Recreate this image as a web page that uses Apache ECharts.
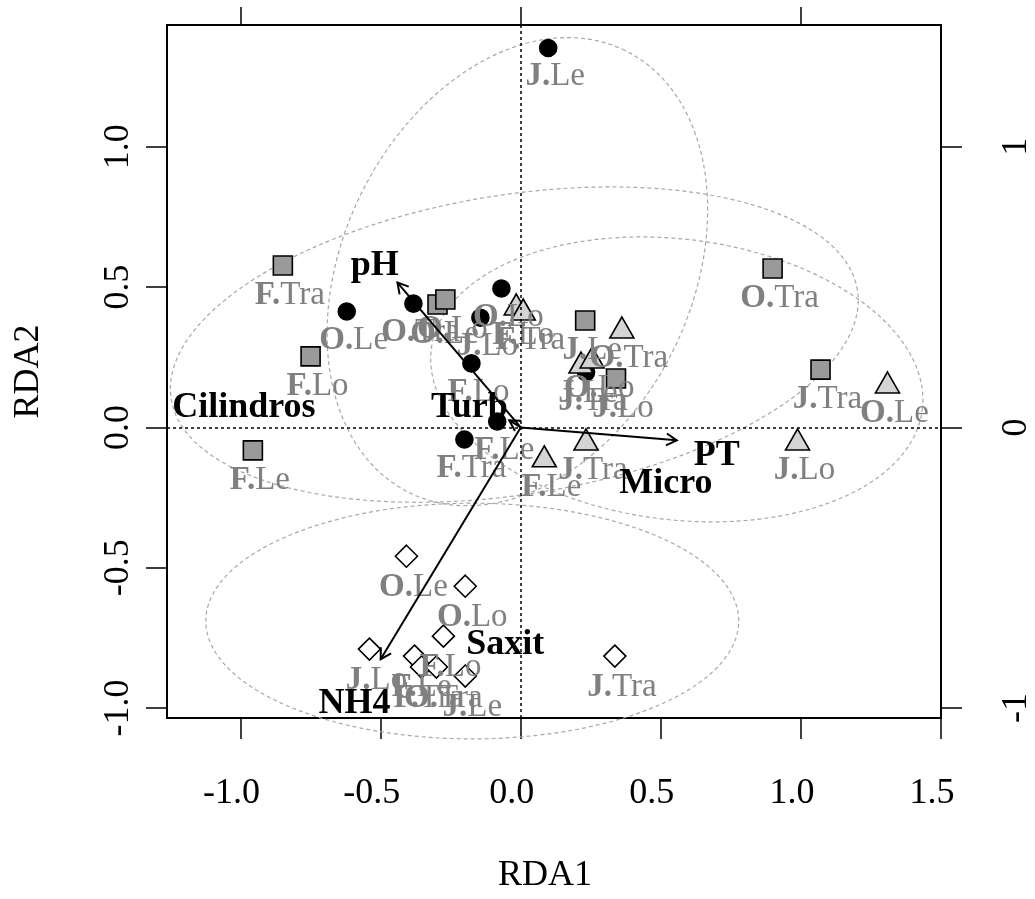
<!DOCTYPE html>
<html>
<head>
<meta charset="utf-8">
<title>RDA biplot</title>
<script src="https://cdn.jsdelivr.net/npm/echarts@6/dist/echarts.min.js"></script>
<style>
  html, body { margin: 0; padding: 0; background: #fff; }
  #chart { width: 1035px; height: 899px; }
</style>
</head>
<body>
<div id="chart"></div>
<script>
// ---- data (RDA1, RDA2 scores) ----
// group 1: black circles
var circleX = [0.098, -0.621, -0.383, -0.069, -0.144, -0.176, -0.084, -0.201, 0.233];
var circleY = [1.352, 0.413, 0.441, 0.495, 0.391, 0.228, 0.021, -0.043, 0.196];
var circleNames = ['J.Le', 'O.Le', 'O.Tra', 'O.Lo', 'J.Lo', 'F.Lo', 'F.Le', 'F.Tra', 'J.Tra'];
// group 2: grey squares
var squareX = [-0.849, -0.750, -0.956, 0.899, 1.070, -0.297, -0.269, 0.230, 0.340];
var squareY = [0.577, 0.253, -0.082, 0.566, 0.206, 0.438, 0.456, 0.381, 0.174];
var squareNames = ['F.Tra', 'F.Lo', 'F.Le', 'O.Tra', 'J.Tra', 'O.Le', 'O.Lo', 'J.Le', 'J.Lo'];
// group 3: light triangles
var triX = [-0.016, 0.009, 0.361, 0.215, 0.255, 0.233, 0.084, 1.309, 0.988];
var triY = [0.438, 0.420, 0.356, 0.231, 0.249, -0.043, -0.103, 0.160, -0.043];
var triNames = ['F.Lo', 'F.Tra', 'O.Tra', 'J.Le', 'O.Lo', 'J.Tra', 'F.Le', 'O.Le', 'J.Lo'];
// group 4: white diamonds
var diaX = [-0.408, -0.198, -0.276, -0.540, -0.379, -0.354, -0.301, -0.198, 0.336];
var diaY = [-0.459, -0.566, -0.744, -0.790, -0.815, -0.854, -0.854, -0.886, -0.815];
var diaNames = ['O.Le', 'O.Lo', 'F.Lo', 'J.Lo', 'F.Le', 'F.Tra', 'O.Tra', 'J.Le', 'J.Tra'];

// environmental variables: arrow tips (null = no arrow drawn) and label positions
var envNames = ['pH', 'Turb', 'PT', 'NH4', 'Micro', 'Cilindros', 'Saxit'];
var envArrowX = [-0.440, -0.041, 0.557, -0.500, null, null, null];
var envArrowY = [0.516, 0.025, -0.046, -0.826, null, null, null];
var envLabelX = [-0.521, -0.183, 0.700, -0.593, 0.518, -0.988, -0.055];
var envLabelY = [0.577, 0.071, -0.100, -0.986, -0.199, 0.071, -0.776];

// dispersion ellipses per group: centre x, centre y, semi-axis a, semi-axis b, angle (deg)
var ellCircle = [-0.012, 0.555, 0.877, 0.623, 64];
var ellSquare = [-0.023, 0.295, 1.24, 0.534, 9];
var ellTri = [0.557, 0.171, 0.883, 0.50, -7];
var ellDia = [-0.173, -0.690, 0.951, 0.42, 0];

// axis ticks
var xTicks = [-1.0, -0.5, 0.0, 0.5, 1.0, 1.5];
var yTicks = [-1.0, -0.5, 0.0, 0.5, 1.0];
var topTicks = [-1, 0, 1];
var rightTicks = [-1, 0, 1];

var FONT = 'Liberation Serif';
var myChart = echarts.init(document.getElementById('chart'));

function toPoints(xs, ys, names) {
    var res = [];
    for (var i = 0; i < xs.length; i++) {
        res.push({ name: names[i], value: [xs[i], ys[i]] });
    }
    return res;
}

// "F.Tra" -> bold "F." + plain "Tra"
function siteLabel(p) {
    var k = p.name.indexOf('.');
    return '{b|' + p.name.slice(0, k + 1) + '}{r|' + p.name.slice(k + 1) + '}';
}

var siteLabelStyle = {
    show: true,
    position: 'bottom',
    distance: 3,
    offset: [7, 0],
    formatter: siteLabel,
    rich: {
        b: { fontFamily: FONT, fontSize: 33, fontWeight: 'bold', color: '#808080' },
        r: { fontFamily: FONT, fontSize: 33, color: '#808080' }
    }
};

function siteSeries(xs, ys, names, symbol, size, fill) {
    return {
        type: 'scatter',
        data: toPoints(xs, ys, names),
        symbol: symbol,
        symbolSize: size,
        itemStyle: { color: fill, borderColor: '#000', borderWidth: 1.6, opacity: 1 },
        label: siteLabelStyle,
        emphasis: { disabled: true },
        z: 3
    };
}

// dashed ellipse from its parameters
function ellipseItem(params, api) {
    var cx = api.value(0), cy = api.value(1), a = api.value(2), b = api.value(3);
    var ang = api.value(4) * Math.PI / 180;
    var pts = [];
    for (var i = 0; i <= 160; i++) {
        var t = i / 160 * 2 * Math.PI;
        var ex = a * Math.cos(t), ey = b * Math.sin(t);
        pts.push(api.coord([cx + ex * Math.cos(ang) - ey * Math.sin(ang),
                            cy + ex * Math.sin(ang) + ey * Math.cos(ang)]));
    }
    return {
        type: 'polyline',
        shape: { points: pts },
        style: { stroke: '#a8a8a8', lineWidth: 1.2, lineDash: [4, 3], fill: null }
    };
}

// biplot arrow with open head
function arrowItem(params, api) {
    var o = api.coord([0, 0]);
    var p = api.coord([api.value(0), api.value(1)]);
    var ang = Math.atan2(p[1] - o[1], p[0] - o[0]);
    var L = 12, w = Math.PI / 6;
    var h1 = [p[0] - L * Math.cos(ang - w), p[1] - L * Math.sin(ang - w)];
    var h2 = [p[0] - L * Math.cos(ang + w), p[1] - L * Math.sin(ang + w)];
    var st = { stroke: '#000', lineWidth: 2, fill: null };
    return {
        type: 'group',
        children: [
            { type: 'line', shape: { x1: o[0], y1: o[1], x2: p[0], y2: p[1] }, style: st },
            { type: 'polyline', shape: { points: [h1, p, h2] }, style: st }
        ]
    };
}

// bold black variable name
function envTextItem(params, api) {
    var p = api.coord([api.value(0), api.value(1)]);
    return {
        type: 'text',
        x: p[0], y: p[1],
        style: {
            text: envNames[params.dataIndex],
            fontFamily: FONT, fontSize: 36, fontWeight: 'bold',
            fill: '#000', align: 'center', verticalAlign: 'middle'
        }
    };
}

var arrowData = [];
var envLabelData = [];
for (var i = 0; i < envNames.length; i++) {
    if (envArrowX[i] !== null) arrowData.push([envArrowX[i], envArrowY[i]]);
    envLabelData.push([envLabelX[i], envLabelY[i]]);
}

var axisText = { fontFamily: FONT, fontSize: 36, color: '#000' };
var tickStyle = { color: '#000', width: 1.5 };

var option = {
    animation: false,
    backgroundColor: '#fff',
    grid: {
        left: 167, right: 92, top: 25, bottom: 180,
        show: true, borderColor: '#000', borderWidth: 2
    },
    xAxis: [
        {
            type: 'value', position: 'bottom', min: -1.2625, max: 1.5,
            splitLine: { show: false }, axisLine: { show: false, onZero: false },
            axisTick: { show: true, length: 21, customValues: xTicks, lineStyle: tickStyle },
            axisLabel: Object.assign({
                customValues: xTicks, margin: 58, padding: [0, 18, 0, 0],
                formatter: function (v) { return v.toFixed(1); }
            }, axisText),
            name: 'RDA1', nameLocation: 'middle', nameGap: 140,
            nameTextStyle: Object.assign({ padding: [0, 18, 0, 0] }, axisText)
        },
        {
            type: 'value', position: 'top', min: -1.2625, max: 1.5,
            splitLine: { show: false }, axisLine: { show: false, onZero: false },
            axisTick: { show: true, length: 18, customValues: topTicks, lineStyle: tickStyle },
            axisLabel: { show: false }
        }
    ],
    yAxis: [
        {
            type: 'value', position: 'left', min: -1.0356, max: 1.434,
            splitLine: { show: false }, axisLine: { show: false, onZero: false },
            axisTick: { show: true, length: 21, customValues: yTicks, lineStyle: tickStyle },
            axisLabel: Object.assign({
                customValues: yTicks, margin: 30, rotate: 90,
                formatter: function (v) { return v.toFixed(1); }
            }, axisText),
            name: 'RDA2', nameLocation: 'middle', nameGap: 120, nameRotate: 90,
            nameTextStyle: axisText
        },
        {
            type: 'value', position: 'right', min: -1.0356, max: 1.434,
            splitLine: { show: false }, axisLine: { show: false, onZero: false },
            axisTick: { show: true, length: 21, customValues: rightTicks, lineStyle: tickStyle },
            axisLabel: Object.assign({
                customValues: rightTicks, margin: 58, rotate: 90,
                formatter: function (v) { return String(Math.round(v)); }
            }, axisText)
        }
    ],
    series: [
        {
            type: 'custom',
            renderItem: ellipseItem,
            data: [ellCircle, ellSquare, ellTri, ellDia],
            clip: false,
            silent: true,
            z: 1,
            markLine: {
                silent: true,
                symbol: 'none',
                label: { show: false },
                lineStyle: { color: '#000', type: [3, 3], width: 1.5 },
                data: [{ xAxis: 0 }, { yAxis: 0 }]
            }
        },
        siteSeries(circleX, circleY, circleNames, 'circle', 17, '#000'),
        siteSeries(squareX, squareY, squareNames, 'rect', 19, '#9a9a9a'),
        siteSeries(triX, triY, triNames, 'triangle', [24, 21], '#d4d4d4'),
        siteSeries(diaX, diaY, diaNames, 'diamond', 22, '#fff'),
        {
            type: 'custom',
            renderItem: arrowItem,
            data: arrowData,
            clip: false,
            silent: true,
            z: 4
        },
        {
            type: 'custom',
            renderItem: envTextItem,
            data: envLabelData,
            clip: false,
            silent: true,
            z: 5
        }
    ]
};

myChart.setOption(option);
window.addEventListener('resize', function () {
    myChart.resize();
});
</script>
</body>
</html>
